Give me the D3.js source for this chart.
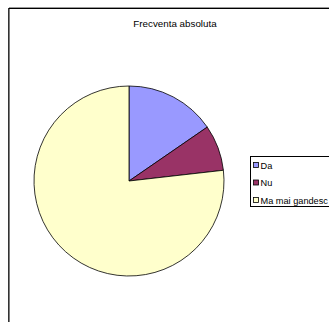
<!DOCTYPE html>
<html>
<head>
<meta charset="utf-8">
<script src="https://cdn.jsdelivr.net/npm/d3@7"></script>
<style>
html,body{margin:0;padding:0;background:#fff;overflow:hidden;}
svg{display:block;}
text{font-family:"Liberation Sans",Arial,sans-serif;}
</style>
</head>
<body>
<script>
const title = "Frecventa absoluta";
const categories = ["Da", "Nu", "Ma mai gandesc"];
const values = [15.4, 7.8, 76.8];
const colors = ["#9999FF", "#993366", "#FFFFCC"];

const W = 329, H = 322;
const svg = d3.select("body").append("svg").attr("width", W).attr("height", H);

// chart frame
svg.append("rect").attr("x", 9).attr("y", 8.5).attr("width", 340).attr("height", 330)
  .attr("fill", "#fff").attr("stroke", "#000").attr("stroke-width", 1);
svg.append("line").attr("x1", 8.5).attr("x2", 8.5).attr("y1", 8).attr("y2", H)
  .attr("stroke", "#333").attr("stroke-width", 1);
svg.append("line").attr("x1", 9).attr("x2", W).attr("y1", 7.5).attr("y2", 7.5)
  .attr("stroke", "#999").attr("stroke-width", 1);

svg.append("text").attr("x", 175).attr("y", 27).attr("text-anchor", "middle")
  .attr("font-size", 9.8).attr("fill", "#000").text(title);

const cx = 129, cy = 181, r = 95;
const pie = d3.pie().sort(null).value(d => d)(values);
const arc = d3.arc().innerRadius(0).outerRadius(r);
svg.append("g").attr("transform", `translate(${cx},${cy})`)
  .selectAll("path").data(pie).join("path")
  .attr("d", arc)
  .attr("fill", (d, i) => colors[i])
  .attr("stroke", "#000").attr("stroke-width", 0.8).attr("stroke-linejoin", "round");

// legend
const lg = svg.append("g");
lg.append("rect").attr("x", 250.5).attr("y", 156.5).attr("width", 100).attr("height", 50)
  .attr("fill", "#fff").attr("stroke", "#000").attr("stroke-width", 1);
const ly = d3.scalePoint().domain(categories).range([165, 200]);
categories.forEach((c, i) => {
  lg.append("rect").attr("x", 253.5).attr("y", ly(c) - 2.5).attr("width", 5).attr("height", 5)
    .attr("fill", colors[i]).attr("stroke", "#000").attr("stroke-width", 0.8);
  lg.append("text").attr("x", 260.5).attr("y", ly(c) + 3.5).attr("font-size", 9.2)
    .attr("fill", "#000").text(c);
});
</script>
</body>
</html>
